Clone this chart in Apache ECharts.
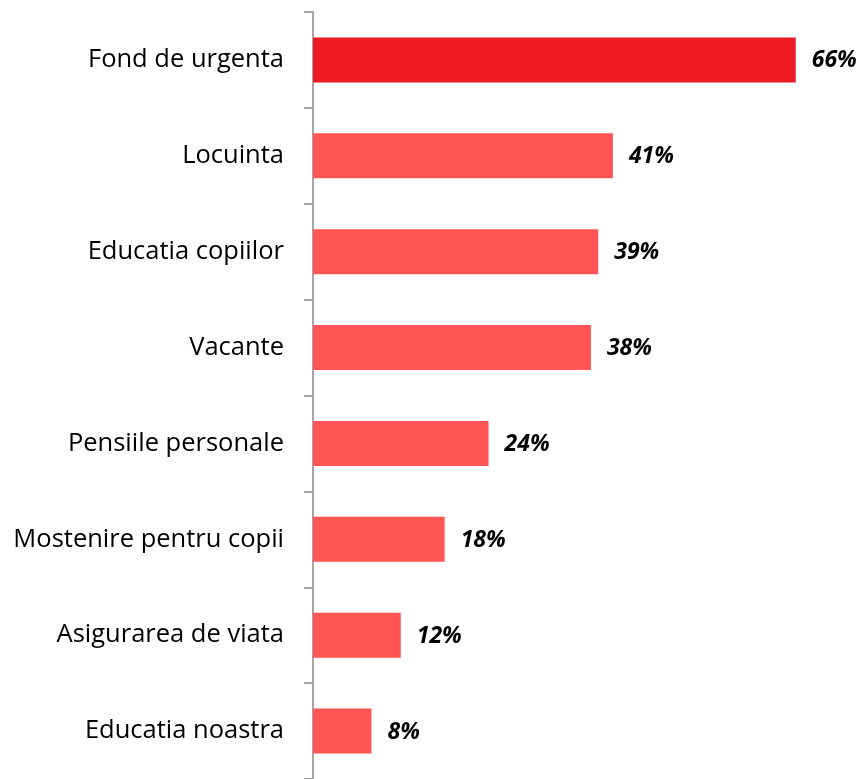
<!DOCTYPE html>
<html>
<head>
<meta charset="utf-8">
<script src="https://cdn.jsdelivr.net/npm/echarts@6/dist/echarts.min.js"></script>
<style>html,body{margin:0;padding:0;background:#fff}#c{width:866px;height:779px}</style>
</head>
<body>
<div id="c"></div>
<script>
const categories = ["Fond de urgenta","Locuinta","Educatia copiilor","Vacante","Pensiile personale","Mostenire pentru copii","Asigurarea de viata","Educatia noastra"];
const values = [66,41,39,38,24,18,12,8];
const highlightColor = "#ED1C24";
const barColor = "#FF5555";

const chart = echarts.init(document.getElementById('c'), null, {renderer:'canvas'});
chart.setOption({
  animation:false,
  grid:{left:313, top:12, width:512, height:768},
  xAxis:{type:'value', min:0, max:70, show:false},
  yAxis:{type:'category', inverse:true, data:categories,
    axisLine:{show:true, lineStyle:{color:'#A6A6A6', width:2}},
    axisTick:{show:true, length:9, lineStyle:{color:'#A6A6A6', width:2}},
    axisLabel:{margin:29, color:'#000', fontSize:25.5, fontFamily:'Open Sans'}
  },
  series:[{type:'bar', barWidth:45,
    data: values.map((v,i)=>({value:v, itemStyle:{color: i===0?highlightColor:barColor}})),
    label:{show:true, position:'right', distance:16, offset:[0,1], formatter:'{c}%', color:'#000', fontSize:23, fontWeight:'bold', fontStyle:'italic', fontFamily:'Open Sans'}
  }]
});
</script>
</body>
</html>
